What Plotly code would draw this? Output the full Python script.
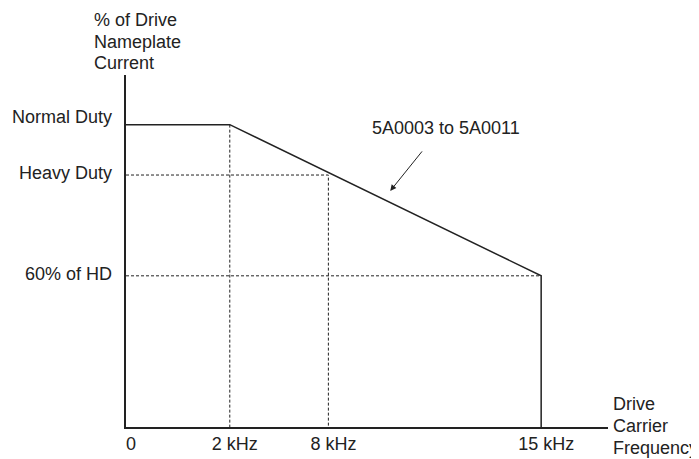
import plotly.graph_objects as go

# ---- data (schematic positions) ----
x_tick_pos = [0, 1, 1.95, 4]
x_tick_text = ["0", "2 kHz", "8 kHz", "15 kHz"]
y_levels = [120, 100, 60]
y_tick_text = ["Normal Duty", "Heavy Duty", "60% of HD"]
y_title_lines = ["% of Drive", "Nameplate", "Current"]
x_title_lines = ["Drive", "Carrier", "Frequency"]
series_label = "5A0003 to 5A0011"

nd, hd, hd60 = y_levels
x0, x2, x8, x15 = x_tick_pos

curve_x = [x0, x2, x15, x15]
curve_y = [nd, nd, hd60, 0]

guide_x = [x2, x2, None, x0, x8, x8, None, x0, x15]
guide_y = [nd, 0, None, hd, hd, 0, None, hd60, hd60]

INK = "#222222"
FONT = "Liberation Sans, Arial, sans-serif"
FS = 18

fig = go.Figure()
fig.add_trace(go.Scatter(x=guide_x, y=guide_y, mode="lines",
                         line=dict(color=INK, width=1, dash="3px,2px"),
                         hoverinfo="skip", showlegend=False))
fig.add_trace(go.Scatter(x=curve_x, y=curve_y, mode="lines",
                         line=dict(color=INK, width=1.5),
                         hoverinfo="skip", showlegend=False))

tfont = dict(family=FONT, size=FS, color=INK)
annotations = []
label_shift = [8, 2, 2]
for lv, txt, sh in zip(y_levels, y_tick_text, label_shift):
    annotations.append(dict(xref="paper", x=0, xanchor="right", xshift=-12,
                            yref="y", y=lv, yanchor="middle", yshift=sh,
                            text=txt, showarrow=False, font=tfont))

for txt, sh in zip(y_title_lines, [55, 33.3, 11.7]):
    annotations.append(dict(xref="paper", x=0, xanchor="left", xshift=-34,
                            yref="paper", y=1, yanchor="middle", yshift=sh,
                            text=txt, showarrow=False, font=tfont))
for txt, sh in zip(x_title_lines, [23.3, 1, -21]):
    annotations.append(dict(xref="paper", x=1, xanchor="left", xshift=3,
                            yref="paper", y=0, yanchor="middle", yshift=sh,
                            text=txt, showarrow=False, font=tfont))
# series label
annotations.append(dict(xref="x", x=3.08, yref="y", y=118.5,
                        xanchor="center", yanchor="middle",
                        text=series_label, showarrow=False, font=tfont))
# arrow
annotations.append(dict(xref="x", x=2.546, yref="y", y=93.7,
                        text="", showarrow=True, ax=33, ay=-41,
                        arrowhead=2, arrowsize=1.2, arrowwidth=1,
                        arrowcolor=INK))

fig.update_layout(
    width=691, height=451,
    margin=dict(l=117.5, r=91, t=67, b=32),
    plot_bgcolor="white", paper_bgcolor="white",
    font=dict(family=FONT, size=FS, color=INK),
    annotations=annotations,
    xaxis=dict(range=[0, 4.644], showline=True, linecolor=INK, linewidth=1.5,
               showgrid=False, zeroline=False, ticks="",
               tickvals=x_tick_pos, ticktext=x_tick_text,
               ticklabelshift=5, automargin=False,
               tickfont=tfont),
    yaxis=dict(range=[0, 139.7], showline=True, linecolor=INK, linewidth=1.5,
               showgrid=False, zeroline=False, showticklabels=False,
               ticks="", automargin=False),
)

fig.write_html("out.html")
